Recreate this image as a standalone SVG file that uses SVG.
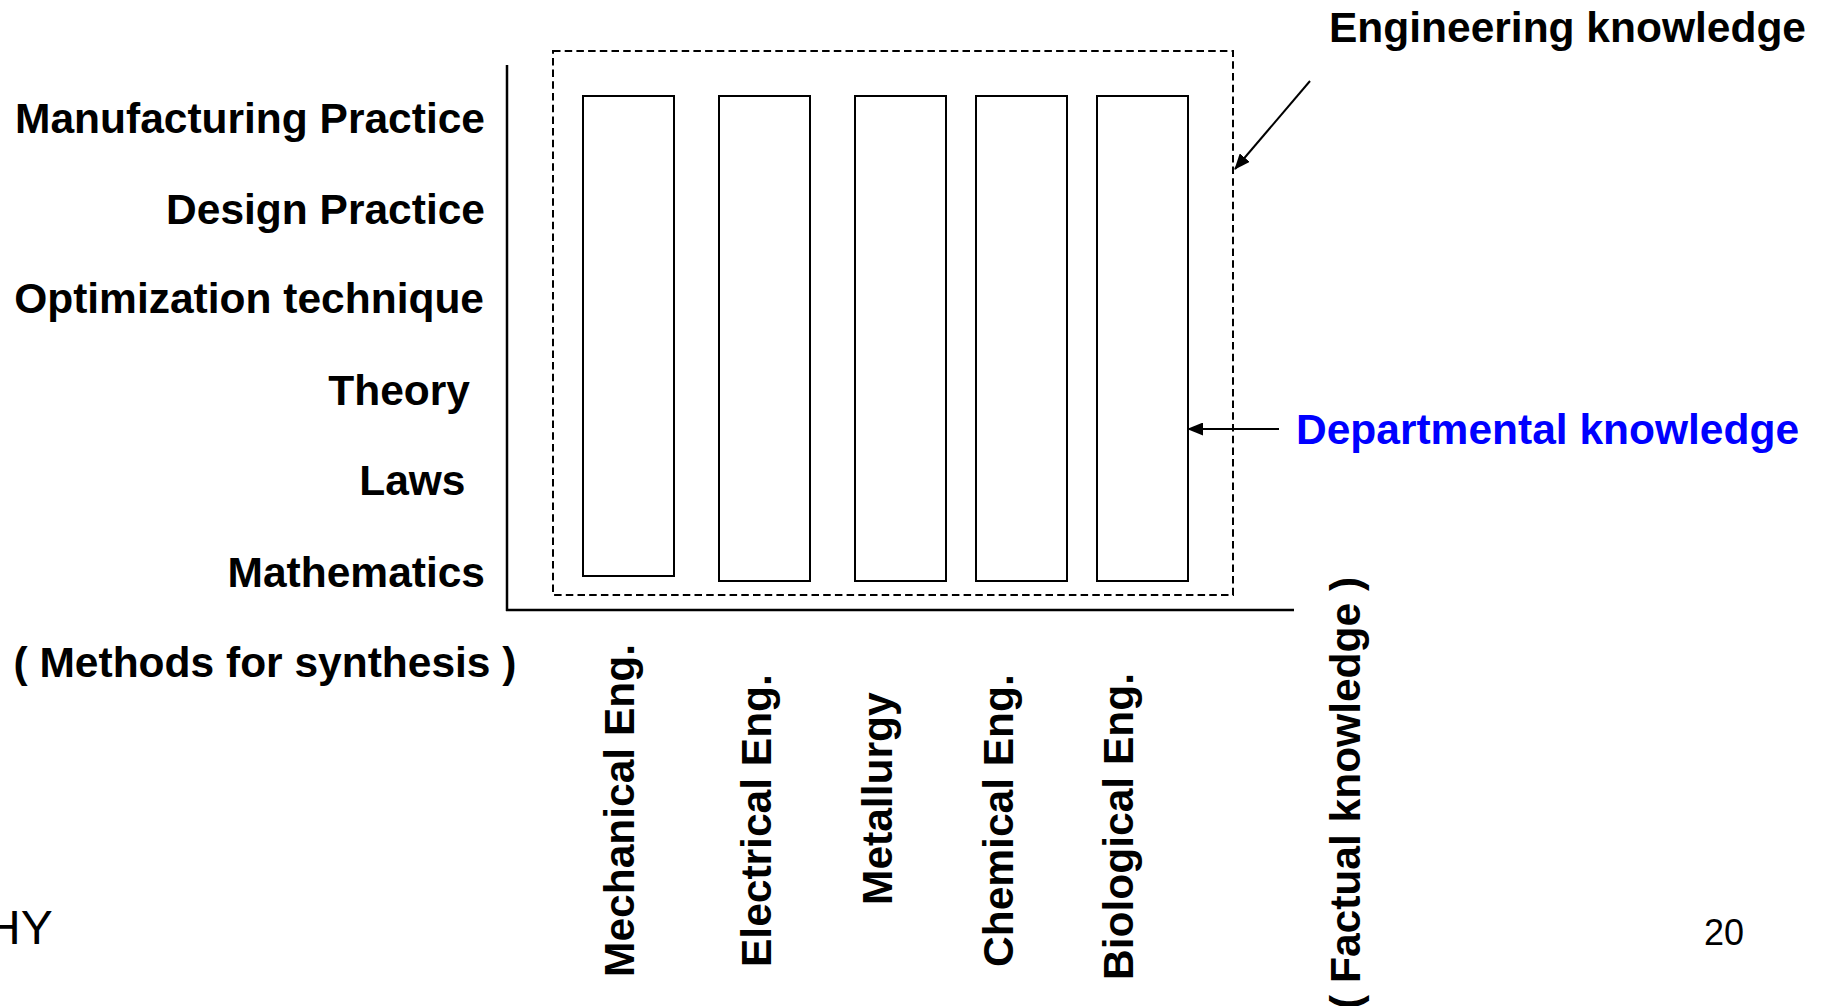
<svg xmlns="http://www.w3.org/2000/svg" width="1823" height="1006" viewBox="0 0 1823 1006">
  <style>
    .lbl { font-family: "Liberation Sans", Arial, sans-serif; font-weight: bold; font-size: 42.5px; fill: #000; }
    .blue { fill: #0000FF; }
    .plain { font-family: "Liberation Sans", Arial, sans-serif; fill: #000; }
    .col { fill: #fff; stroke: #000; stroke-width: 2; }
    .axis { stroke: #000; stroke-width: 2.5; fill: none; }
    .dash { fill: none; stroke: #000; stroke-width: 2; stroke-dasharray: 7.5 4.2; }
    .conn { stroke: #000; stroke-width: 2; fill: none; }
  </style>
  <defs>
    <marker id="headL" viewBox="0 0 16 13" refX="15" refY="6.5" markerWidth="16" markerHeight="13" markerUnits="userSpaceOnUse" orient="auto">
      <path d="M0,0 L16,6.5 L0,13 z" fill="#000"/>
    </marker>
  </defs>
  <rect width="1823" height="1006" fill="#fff"/>

  <!-- axes -->
  <g id="axes">
    <line class="axis" x1="507" y1="65" x2="507" y2="611"/>
    <line class="axis" x1="506" y1="610" x2="1294" y2="610"/>
  </g>

  <!-- engineering knowledge boundary -->
  <g id="engineering-box">
    <rect class="dash" x="553" y="51" width="680" height="544"/>
  </g>

  <!-- department columns -->
  <g id="col-mechanical"><rect class="col" x="583" y="96" width="91" height="480"/></g>
  <g id="col-electrical"><rect class="col" x="719" y="96" width="91" height="485"/></g>
  <g id="col-metallurgy"><rect class="col" x="855" y="96" width="91" height="485"/></g>
  <g id="col-chemical"><rect class="col" x="976" y="96" width="91" height="485"/></g>
  <g id="col-biological"><rect class="col" x="1097" y="96" width="91" height="485"/></g>

  <!-- method levels -->
  <g id="levels">
    <text class="lbl" x="485" y="132.5" text-anchor="end">Manufacturing Practice</text>
    <text class="lbl" x="485" y="223.5" text-anchor="end">Design Practice</text>
    <text class="lbl" x="484" y="313" text-anchor="end">Optimization technique</text>
    <text class="lbl" x="470" y="404.5" text-anchor="end">Theory</text>
    <text class="lbl" x="465.5" y="495" text-anchor="end">Laws</text>
    <text class="lbl" x="485" y="586.5" text-anchor="end">Mathematics</text>
    <text class="lbl" x="13.5" y="677">( Methods for synthesis )</text>
  </g>

  <!-- department names -->
  <g id="departments">
    <text class="lbl" transform="translate(634,977) rotate(-90)">Mechanical Eng.</text>
    <text class="lbl" transform="translate(771,967) rotate(-90)">Electrical Eng.</text>
    <text class="lbl" transform="translate(892,905) rotate(-90)">Metallurgy</text>
    <text class="lbl" transform="translate(1013,967) rotate(-90)">Chemical Eng.</text>
    <text class="lbl" transform="translate(1133,980) rotate(-90)">Biological Eng.</text>
    <text class="lbl" transform="translate(1360,1009) rotate(-90)">( Factual knowledge )</text>
  </g>

  <!-- callouts -->
  <g id="label-engineering">
    <text class="lbl" x="1806" y="42" text-anchor="end">Engineering knowledge</text>
  </g>
  <g id="label-departmental">
    <text class="lbl blue" x="1296" y="444">Departmental knowledge</text>
  </g>

  <g id="connectors">
    <line class="conn" x1="1310" y1="81" x2="1235" y2="169" marker-end="url(#headL)"/>
    <line class="conn" x1="1279" y1="429" x2="1188" y2="429" marker-end="url(#headL)"/>
  </g>

  <!-- footer -->
  <g id="footer">
    <text class="plain" x="-14" y="944" font-size="48">HY</text>
    <text class="plain" x="1704" y="945" font-size="36">20</text>
  </g>
</svg>
